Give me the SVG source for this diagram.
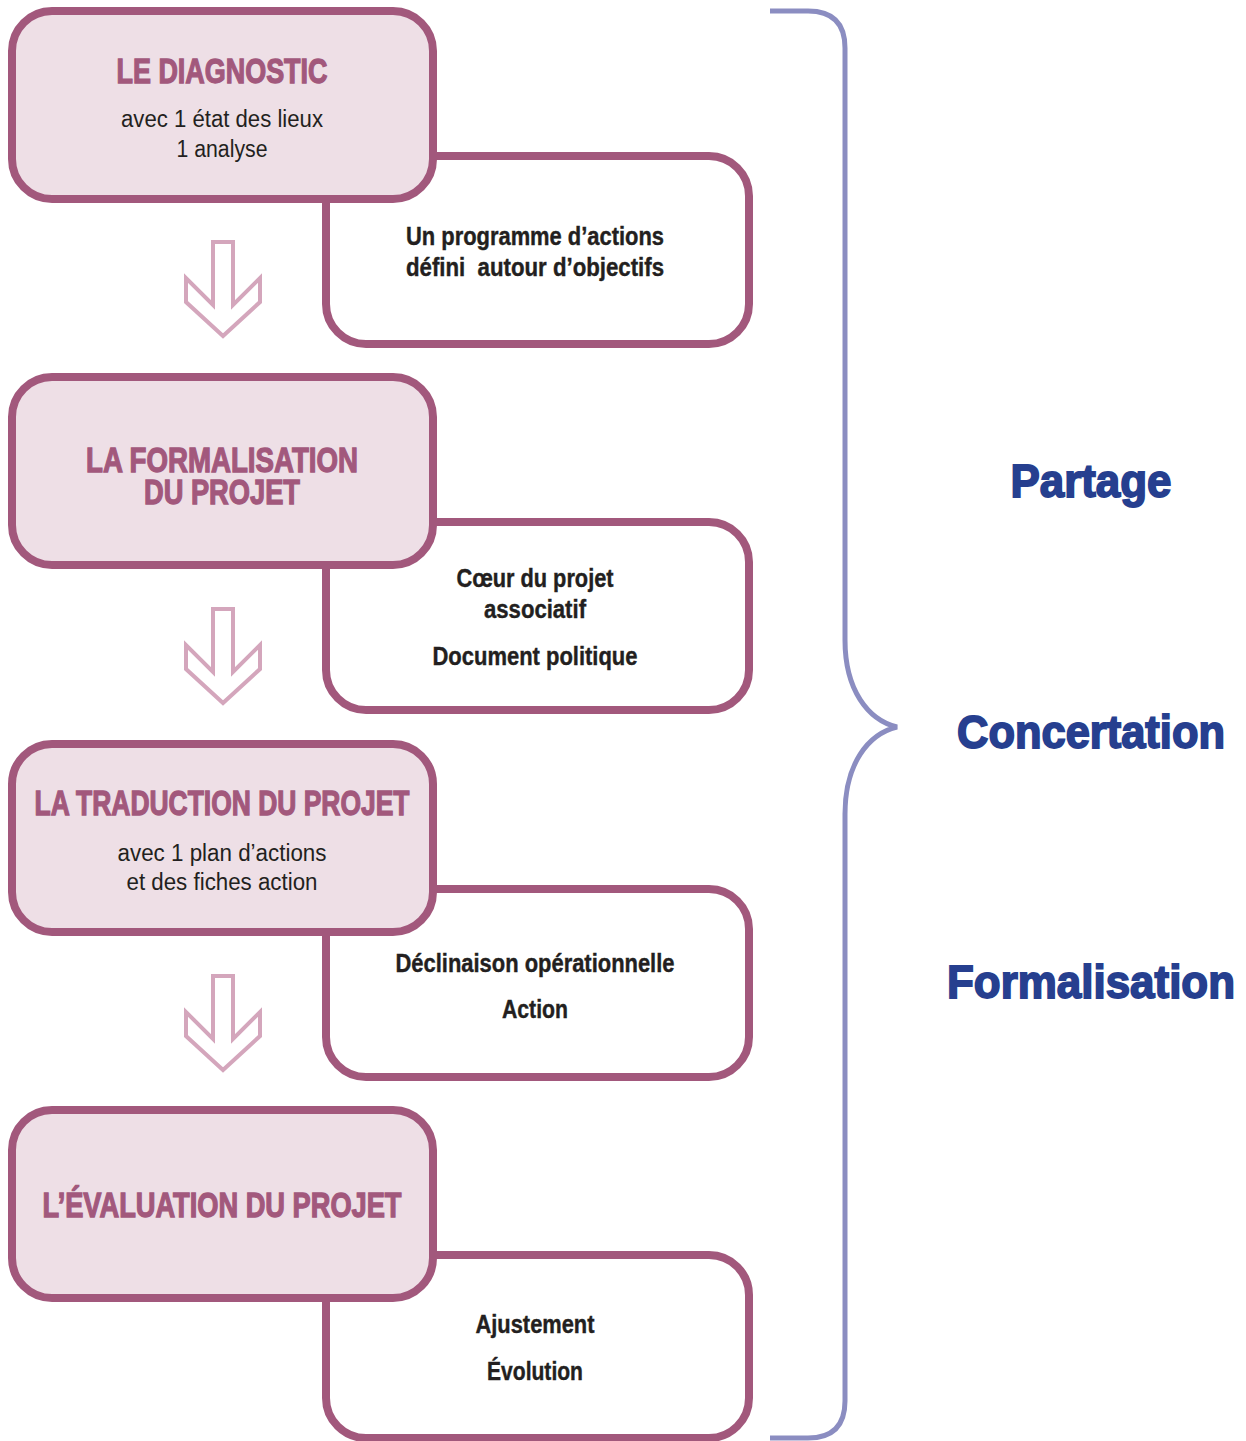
<svg xmlns="http://www.w3.org/2000/svg" width="1246" height="1441" viewBox="0 0 1246 1441">
<style>
.pink{fill:#eedfe6;stroke:#a2587c;stroke-width:8}
.white{fill:#ffffff;stroke:#a2587c;stroke-width:8}
.arrow{fill:#ffffff;stroke:#d4a6bc;stroke-width:4;stroke-linejoin:miter}
.brace{fill:none;stroke:#8b8dc1;stroke-width:5}
.title{font-family:"Liberation Sans",Arial,sans-serif;font-weight:bold;font-size:35px;fill:#a2587c;stroke:#a2587c;stroke-width:1.3;text-anchor:middle}
.sub{font-family:"Liberation Sans",Arial,sans-serif;font-size:23px;fill:#231f20;text-anchor:middle}
.wt{font-family:"Liberation Sans",Arial,sans-serif;font-weight:bold;font-size:25px;fill:#231f20;stroke:#231f20;stroke-width:0.4;text-anchor:middle}
.side{font-family:"Liberation Sans",Arial,sans-serif;font-weight:bold;font-size:47px;fill:#263f8f;stroke:#263f8f;stroke-width:1.8;text-anchor:middle}
</style>
<defs>
<polygon id="arr" points="213,242 233,242 233,305 260,278 260,302 223,336 186,302 186,278 213,305"/>
</defs>
<rect width="1246" height="1441" fill="#ffffff"/>

<g id="connectors">
<use href="#arr" class="arrow"/>
<use href="#arr" class="arrow" transform="translate(0,367)"/>
<use href="#arr" class="arrow" transform="translate(0,734)"/>
<path class="brace" d="M770,11 L808,11 Q845,11 845,48 L845,640 C845,690 868,720 897,727 C868,734 845,764 845,814 L845,1401 Q845,1438 808,1438 L770,1438"/>
</g>

<g id="detail1">
<rect class="white" x="326" y="156" width="423" height="188" rx="40"/>
<text class="wt" x="535" y="245" textLength="258" lengthAdjust="spacingAndGlyphs">Un programme d’actions</text>
<text class="wt" x="535" y="276" textLength="258" lengthAdjust="spacingAndGlyphs" xml:space="preserve">défini  autour d’objectifs</text>
</g>
<g id="step1">
<rect class="pink" x="12" y="11" width="421" height="188" rx="40"/>
<text class="title" x="222" y="83" textLength="211" lengthAdjust="spacingAndGlyphs">LE DIAGNOSTIC</text>
<text class="sub" x="222" y="127" textLength="202" lengthAdjust="spacingAndGlyphs">avec 1 état des lieux</text>
<text class="sub" x="222" y="157" textLength="91" lengthAdjust="spacingAndGlyphs">1 analyse</text>
</g>

<g id="detail2">
<rect class="white" x="326" y="522" width="423" height="188" rx="40"/>
<text class="wt" x="535" y="587" textLength="157" lengthAdjust="spacingAndGlyphs">Cœur du projet</text>
<text class="wt" x="535" y="618" textLength="102" lengthAdjust="spacingAndGlyphs">associatif</text>
<text class="wt" x="535" y="665" textLength="205" lengthAdjust="spacingAndGlyphs">Document politique</text>
</g>
<g id="step2">
<rect class="pink" x="12" y="377" width="421" height="188" rx="40"/>
<text class="title" x="222" y="472" textLength="272" lengthAdjust="spacingAndGlyphs">LA FORMALISATION</text>
<text class="title" x="222" y="504" textLength="156" lengthAdjust="spacingAndGlyphs">DU PROJET</text>
</g>

<g id="detail3">
<rect class="white" x="326" y="889" width="423" height="188" rx="40"/>
<text class="wt" x="535" y="972" textLength="279" lengthAdjust="spacingAndGlyphs">Déclinaison opérationnelle</text>
<text class="wt" x="535" y="1018" textLength="66" lengthAdjust="spacingAndGlyphs">Action</text>
</g>
<g id="step3">
<rect class="pink" x="12" y="744" width="421" height="188" rx="40"/>
<text class="title" x="222" y="815" textLength="375" lengthAdjust="spacingAndGlyphs">LA TRADUCTION DU PROJET</text>
<text class="sub" x="222" y="861" textLength="209" lengthAdjust="spacingAndGlyphs">avec 1 plan d’actions</text>
<text class="sub" x="222" y="890" textLength="191" lengthAdjust="spacingAndGlyphs">et des fiches action</text>
</g>

<g id="detail4">
<rect class="white" x="326" y="1255" width="423" height="183" rx="40"/>
<text class="wt" x="535" y="1333" textLength="119" lengthAdjust="spacingAndGlyphs">Ajustement</text>
<text class="wt" x="535" y="1380" textLength="96" lengthAdjust="spacingAndGlyphs">Évolution</text>
</g>
<g id="step4">
<rect class="pink" x="12" y="1110" width="421" height="188" rx="40"/>
<text class="title" x="222" y="1217" textLength="359" lengthAdjust="spacingAndGlyphs">L’ÉVALUATION DU PROJET</text>
</g>

<g id="labels">
<text class="side" x="1091" y="497" textLength="161" lengthAdjust="spacingAndGlyphs">Partage</text>
<text class="side" x="1091" y="748" textLength="268" lengthAdjust="spacingAndGlyphs">Concertation</text>
<text class="side" x="1091" y="998" textLength="288" lengthAdjust="spacingAndGlyphs">Formalisation</text>
</g>
</svg>
